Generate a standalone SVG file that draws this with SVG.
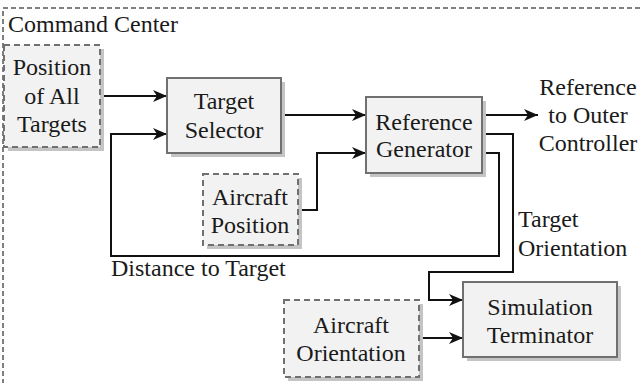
<svg xmlns="http://www.w3.org/2000/svg" width="641" height="383" viewBox="0 0 641 383">
<defs>
<marker id="arr" markerUnits="userSpaceOnUse" markerWidth="16" markerHeight="14" refX="14" refY="6" orient="auto">
<path d="M0,0 L14,6 L0,12 L4,6 z" fill="#111"/>
</marker>
</defs>
<rect x="3" y="8" width="700" height="500" fill="none" stroke="#555" stroke-width="1.5" stroke-dasharray="5 3"/>
<text x="8" y="32" font-family="Liberation Serif" font-size="24" fill="#1a1a1a">Command Center</text>

<g id="connectors" fill="none" stroke="#111" stroke-width="2">
<path marker-end="url(#arr)" d="M100,96 H167"/>
<path marker-end="url(#arr)" d="M281,115 H366"/>
<path marker-end="url(#arr)" d="M298,210 H317 V153 H366"/>
<path marker-end="url(#arr)" d="M482,115 H538"/>
<path marker-end="url(#arr)" d="M482,134 H513 V272 H429 V300 H463"/>
<path marker-end="url(#arr)" d="M482,153 H499 V256 H111 V134 H167"/>
<path marker-end="url(#arr)" d="M419,338 H463"/>
</g>
<g id="connector-labels" fill="#1a1a1a">
<text x="111" y="276" font-family="Liberation Serif" font-size="24">Distance to Target</text>
<text x="518" y="227" font-family="Liberation Serif" font-size="24">Target</text>
<text x="518" y="256" font-family="Liberation Serif" font-size="24">Orientation</text>
<text text-anchor="middle" x="588" y="95" font-family="Liberation Serif" font-size="24">Reference</text>
<text text-anchor="middle" x="588" y="123" font-family="Liberation Serif" font-size="24">to Outer</text>
<text text-anchor="middle" x="588" y="151" font-family="Liberation Serif" font-size="24">Controller</text>
</g>

<g id="position-all-targets">
<rect fill="#c4c4c4" x="8" y="49" width="96" height="102"/>
<rect fill="#f2f2f2" stroke="#707070" stroke-width="2" stroke-dasharray="6 4" x="4" y="45" width="96" height="102"/>
<text text-anchor="middle" fill="#1a1a1a" x="52" y="75" font-family="Liberation Serif" font-size="24">Position</text>
<text text-anchor="middle" fill="#1a1a1a" x="52" y="103.5" font-family="Liberation Serif" font-size="24">of All</text>
<text text-anchor="middle" fill="#1a1a1a" x="52" y="132" font-family="Liberation Serif" font-size="24">Targets</text>
</g>

<g id="target-selector">
<rect fill="#c4c4c4" x="171" y="82" width="114" height="75"/>
<rect fill="#f2f2f2" stroke="#707070" stroke-width="2" x="167" y="78" width="114" height="75"/>
<text text-anchor="middle" fill="#1a1a1a" x="224" y="109" font-family="Liberation Serif" font-size="24">Target</text>
<text text-anchor="middle" fill="#1a1a1a" x="224" y="138" font-family="Liberation Serif" font-size="24">Selector</text>
</g>

<g id="reference-generator">
<rect fill="#c4c4c4" x="370" y="101" width="116" height="76"/>
<rect fill="#f2f2f2" stroke="#707070" stroke-width="2" x="366" y="97" width="116" height="76"/>
<text text-anchor="middle" fill="#1a1a1a" x="424" y="130" font-family="Liberation Serif" font-size="24">Reference</text>
<text text-anchor="middle" fill="#1a1a1a" x="424" y="157" font-family="Liberation Serif" font-size="24">Generator</text>
</g>

<g id="aircraft-position">
<rect fill="#c4c4c4" x="207" y="178" width="95" height="71"/>
<rect fill="#f2f2f2" stroke="#707070" stroke-width="2" stroke-dasharray="6 4" x="203" y="174" width="95" height="71"/>
<text text-anchor="middle" fill="#1a1a1a" x="250" y="205" font-family="Liberation Serif" font-size="24">Aircraft</text>
<text text-anchor="middle" fill="#1a1a1a" x="250" y="233" font-family="Liberation Serif" font-size="24">Position</text>
</g>

<g id="simulation-terminator">
<rect fill="#c4c4c4" x="467" y="286" width="154" height="75"/>
<rect fill="#f2f2f2" stroke="#707070" stroke-width="2" x="463" y="282" width="154" height="75"/>
<text text-anchor="middle" fill="#1a1a1a" x="540" y="315" font-family="Liberation Serif" font-size="24">Simulation</text>
<text text-anchor="middle" fill="#1a1a1a" x="540" y="343" font-family="Liberation Serif" font-size="24">Terminator</text>
</g>

<g id="aircraft-orientation">
<rect fill="#c4c4c4" x="288" y="304" width="135" height="77"/>
<rect fill="#f2f2f2" stroke="#707070" stroke-width="2" stroke-dasharray="6 4" x="284" y="300" width="135" height="77"/>
<text text-anchor="middle" fill="#1a1a1a" x="351" y="333" font-family="Liberation Serif" font-size="24">Aircraft</text>
<text text-anchor="middle" fill="#1a1a1a" x="351" y="361" font-family="Liberation Serif" font-size="24">Orientation</text>
</g>
</svg>
